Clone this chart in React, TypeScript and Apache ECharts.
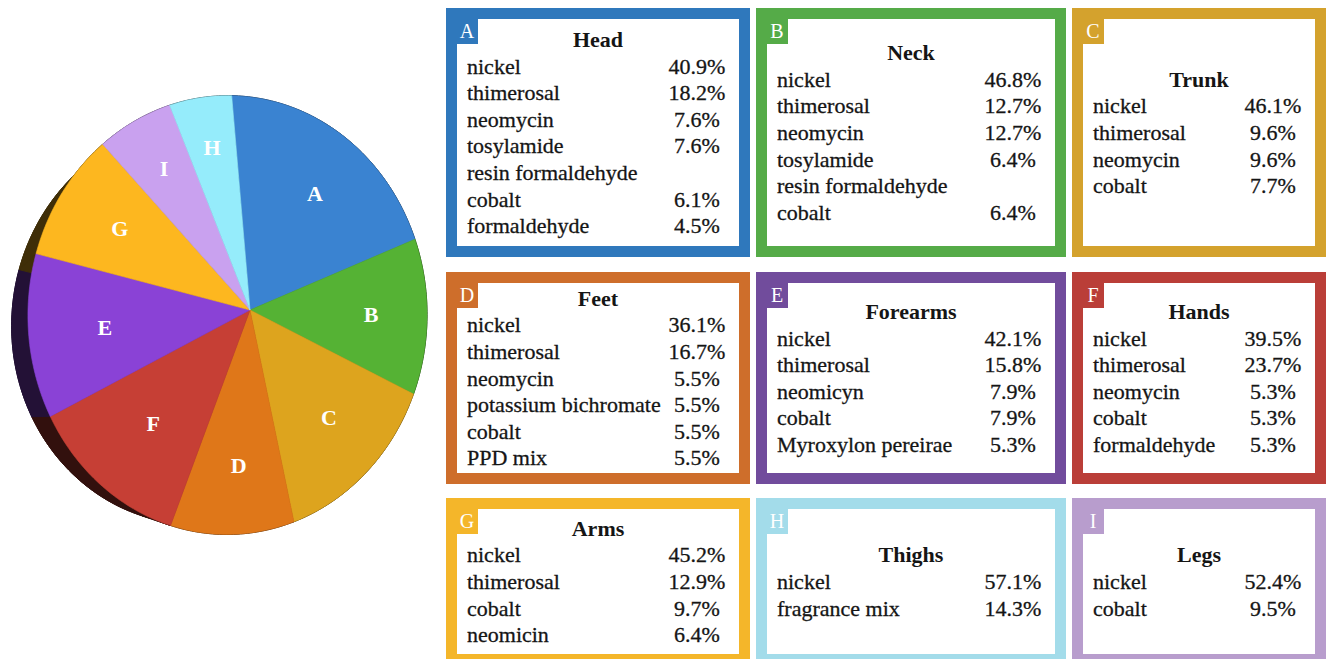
import { useEffect, useRef } from 'react';
import * as echarts from 'echarts';

// ---------- pie data (clockwise from the top) ----------
const sliceLetters = ['A', 'B', 'C', 'D', 'F', 'E', 'G', 'I', 'H'];
const sliceValues = [74, 46, 52, 35, 42, 39, 32, 21, 18];
const sliceColors = ['#3a83d1', '#55b234', '#dda41e', '#df7719', '#c63f35', '#8a42d6', '#fdb71f', '#c9a1ef', '#95ecfb'];

// ---------- boxes ----------
const boxLetters = ['A', 'B', 'C', 'D', 'E', 'F', 'G', 'H', 'I'];
const boxTitles = ['Head', 'Neck', 'Trunk', 'Feet', 'Forearms', 'Hands', 'Arms', 'Thighs', 'Legs'];
const boxColors = ['#2f78bc', '#55ab48', '#d4a22d', '#ce6e2b', '#714c9c', '#ba3e38', '#f4b62a', '#a3dcea', '#b89dcd'];

const headAllergens = ['nickel', 'thimerosal', 'neomycin', 'tosylamide', 'resin formaldehyde', 'cobalt', 'formaldehyde'];
const headPercents = [40.9, 18.2, 7.6, 7.6, null, 6.1, 4.5];
const neckAllergens = ['nickel', 'thimerosal', 'neomycin', 'tosylamide', 'resin formaldehyde', 'cobalt'];
const neckPercents = [46.8, 12.7, 12.7, 6.4, null, 6.4];
const trunkAllergens = ['nickel', 'thimerosal', 'neomycin', 'cobalt'];
const trunkPercents = [46.1, 9.6, 9.6, 7.7];
const feetAllergens = ['nickel', 'thimerosal', 'neomycin', 'potassium bichromate', 'cobalt', 'PPD mix'];
const feetPercents = [36.1, 16.7, 5.5, 5.5, 5.5, 5.5];
const forearmsAllergens = ['nickel', 'thimerosal', 'neomicyn', 'cobalt', 'Myroxylon pereirae'];
const forearmsPercents = [42.1, 15.8, 7.9, 7.9, 5.3];
const handsAllergens = ['nickel', 'thimerosal', 'neomycin', 'cobalt', 'formaldehyde'];
const handsPercents = [39.5, 23.7, 5.3, 5.3, 5.3];
const armsAllergens = ['nickel', 'thimerosal', 'cobalt', 'neomicin'];
const armsPercents = [45.2, 12.9, 9.7, 6.4];
const thighsAllergens = ['nickel', 'fragrance mix'];
const thighsPercents = [57.1, 14.3];
const legsAllergens = ['nickel', 'cobalt'];
const legsPercents = [52.4, 9.5];

// ---------- layout ----------
const FONT = '"Liberation Serif", "Times New Roman", serif';
const TEXT_COLOR = '#151515';
const COL_X = [446, 756, 1072];
const COL_W = [304, 310, 254];
const ROW_Y = [8, 272, 498];
const ROW_H = [249, 212, 167];
const BORDER = 11;
const LINE_H = 26.6;

// pie projection (tilted disc)
const VX = 250, VY = 310, FR = 217.9;
const COS_B = 0.904, SIN_B = 0.427, PERSP = 0.264, TILT = 0.0229;
const THICK = 0.4;
const DROP = 0.12;
const START_DEG = -5.4;

function project(u: number, v: number, w: number): number[] {
  const xp = u * COS_B - w * SIN_B;
  const yp = v + w * DROP;
  const zp = u * SIN_B + w * COS_B;
  const s = 1 / (1 + PERSP * zp - TILT * v);
  return [VX + FR * xp * s, VY + FR * yp * s];
}

function arcPoints(a0: number, a1: number, w: number): number[][] {
  const pts: number[][] = [];
  const n = Math.max(2, Math.ceil(Math.abs(a1 - a0)));
  for (let i = 0; i <= n; i++) {
    const a = ((a0 + ((a1 - a0) * i) / n) * Math.PI) / 180;
    pts.push(project(Math.sin(a), -Math.cos(a), w));
  }
  return pts;
}

function darken(hex: string, f: number): string {
  const n = parseInt(hex.slice(1), 16);
  const r = Math.round(((n >> 16) & 255) * f);
  const g = Math.round(((n >> 8) & 255) * f);
  const b = Math.round((n & 255) * f);
  return `rgb(${r},${g},${b})`;
}

function buildOption() {
  const total = sliceValues.reduce((a, b) => a + b, 0);
  const starts: number[] = [];
  let acc = START_DEG;
  sliceValues.forEach((v) => {
    starts.push(acc);
    acc += (v / total) * 360;
  });
  const pieData = sliceValues.map((v, i) => ({ name: sliceLetters[i], value: v }));

  const wallRender = (params: any, api: any) => {
    const i = params.dataIndex;
    const a0 = starts[i];
    const a1 = a0 + (api.value(0) / total) * 360;
    const col = darken(sliceColors[i], 0.25);
    const back = [project(0, 0, THICK), ...arcPoints(a0, a1, THICK)];
    const strip = [...arcPoints(a0, a1, 0), ...arcPoints(a0, a1, THICK).reverse()];
    return {
      type: 'group',
      children: [
        { type: 'polygon', shape: { points: back }, style: { fill: col, stroke: col, lineWidth: 1 } },
        { type: 'polygon', shape: { points: strip }, style: { fill: col, stroke: col, lineWidth: 1 } },
      ],
    };
  };

  const frontRender = (params: any, api: any) => {
    const i = params.dataIndex;
    const sweep = (api.value(0) / total) * 360;
    const a0 = starts[i];
    const a1 = a0 + sweep;
    const pts = [project(0, 0, 0), ...arcPoints(a0, a1, 0)];
    const mid = (((a0 + a1) / 2) * Math.PI) / 180;
    const lr = Math.max(0.66, 0.84 - 0.004 * sweep);
    const lp = project(lr * Math.sin(mid), -lr * Math.cos(mid), 0);
    return {
      type: 'group',
      children: [
        { type: 'polygon', shape: { points: pts }, style: { fill: sliceColors[i], stroke: sliceColors[i], lineWidth: 0.6 } },
        {
          type: 'text',
          x: lp[0],
          y: lp[1],
          style: {
            text: sliceLetters[i],
            fill: '#ffffff',
            fontSize: 22,
            fontWeight: 'bold',
            fontFamily: FONT,
            align: 'center',
            verticalAlign: 'middle',
          },
        },
      ],
    };
  };

  const boxAllergens = [headAllergens, neckAllergens, trunkAllergens, feetAllergens, forearmsAllergens, handsAllergens, armsAllergens, thighsAllergens, legsAllergens];
  const boxPercents = [headPercents, neckPercents, trunkPercents, feetPercents, forearmsPercents, handsPercents, armsPercents, thighsPercents, legsPercents];

  const bodyStyle = {
    fill: TEXT_COLOR,
    fontSize: 22,
    fontFamily: FONT,
    verticalAlign: 'middle',
    stroke: TEXT_COLOR,
    lineWidth: 0.3,
  };

  const elements: any[] = [];
  boxLetters.forEach((letter, b) => {
    const col = b % 3;
    const row = Math.floor(b / 3);
    const x = COL_X[col], y = ROW_Y[row], w = COL_W[col], h = ROW_H[row];
    const color = boxColors[b];
    elements.push({ type: 'rect', shape: { x, y, width: w, height: h }, style: { fill: color } });
    elements.push({ type: 'rect', shape: { x: x + BORDER, y: y + BORDER, width: w - 2 * BORDER, height: h - 2 * BORDER }, style: { fill: '#ffffff' } });
    elements.push({ type: 'rect', shape: { x: x + BORDER - 1, y: y + BORDER - 1, width: 22, height: 26 }, style: { fill: color } });
    elements.push({
      type: 'text', x: x + BORDER + 10, y: y + BORDER + 12,
      style: { text: letter, fill: '#ffffff', fontSize: 20, fontFamily: FONT, align: 'center', verticalAlign: 'middle' },
    });
    const names = boxAllergens[b];
    const pcts = boxPercents[b];
    const cy = y + h / 2;
    const firstY = cy - (names.length * LINE_H) / 2;
    elements.push({
      type: 'text', x: x + w / 2, y: firstY,
      style: { text: boxTitles[b], fill: TEXT_COLOR, fontSize: 22, fontWeight: 'bold', fontFamily: FONT, align: 'center', verticalAlign: 'middle' },
    });
    names.forEach((nm, r) => {
      const ly = firstY + (r + 1) * LINE_H;
      elements.push({ type: 'text', x: x + 21, y: ly, style: { ...bodyStyle, text: nm, align: 'left' } });
      const p = pcts[r];
      if (p !== null && p !== undefined) {
        elements.push({ type: 'text', x: x + w - 53, y: ly, style: { ...bodyStyle, text: p.toFixed(1) + '%', align: 'center' } });
      }
    });
  });

  return {
    animation: false,
    backgroundColor: '#ffffff',
    series: [
      { type: 'custom', coordinateSystem: 'none', renderItem: wallRender, data: pieData, z: 1, silent: true },
      { type: 'custom', coordinateSystem: 'none', renderItem: frontRender, data: pieData, z: 2, silent: true },
    ],
    graphic: { elements },
  };
}

export default function App() {
  const ref = useRef<HTMLDivElement>(null);
  useEffect(() => {
    document.body.style.margin = '0';
    const chart = echarts.init(ref.current as HTMLDivElement, null, { renderer: 'svg' });
    chart.setOption(buildOption() as any);
    return () => chart.dispose();
  }, []);
  return <div ref={ref} style={{ width: 1327, height: 659 }} />;
}
